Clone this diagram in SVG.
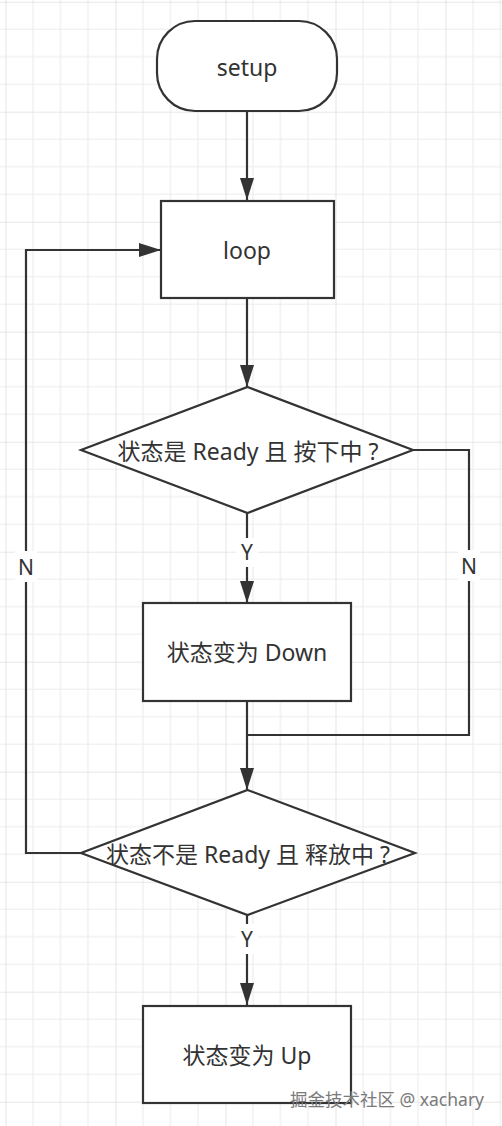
<svg xmlns="http://www.w3.org/2000/svg" width="502" height="1126" viewBox="0 0 502 1126">
<defs>
<pattern id="grid" patternUnits="userSpaceOnUse" x="5.5" y="1.7" width="110" height="110">
<path d="M27.5 0V110M55 0V110M82.5 0V110M0 27.5H110M0 55H110M0 82.5H110" stroke="#ececec" stroke-width="1.2" fill="none"/>
<path d="M0 0V110M0 0H110" stroke="#e0e0e0" stroke-width="1.6" fill="none"/>
</pattern>
<marker id="arr" markerUnits="userSpaceOnUse" markerWidth="24" markerHeight="16" refX="22" refY="7" orient="auto">
<path d="M0 0L22 7L0 14Z" fill="#333"/>
</marker>
</defs>
<style>
.shape{fill:#fff;stroke:#333;stroke-width:2.2}
.edge{fill:none;stroke:#333;stroke-width:2.2}
.t{font-family:"Noto Sans","Noto Sans CJK SC",sans-serif;fill:#333;text-anchor:middle;dominant-baseline:central}
.lbl{font-family:"Noto Sans",sans-serif;font-size:21px;fill:#333;text-anchor:middle;dominant-baseline:central}
.bg{fill:#fff}
</style>
<rect width="502" height="1126" fill="#fff"/>
<rect width="502" height="1126" fill="url(#grid)"/>
<g id="connectors">
<path class="edge" d="M247 111V200" marker-end="url(#arr)"/>
<path class="edge" d="M247 298V387" marker-end="url(#arr)"/>
<path class="edge" d="M247 513V603" marker-end="url(#arr)"/>
<path class="edge" d="M413 450H469V735H247"/>
<path class="edge" d="M247 701V790" marker-end="url(#arr)"/>
<path class="edge" d="M81 853H26V250H161" marker-end="url(#arr)"/>
<path class="edge" d="M247 915V1005" marker-end="url(#arr)"/>
<rect class="bg" x="236" y="538" width="22" height="29"/>
<text class="lbl" x="247" y="552">Y</text>
<rect class="bg" x="458" y="550" width="22" height="31"/>
<text class="lbl" x="469" y="566">N</text>
<rect class="bg" x="15" y="551" width="22" height="31"/>
<text class="lbl" x="26" y="567">N</text>
<rect class="bg" x="236" y="924" width="22" height="30"/>
<text class="lbl" x="247" y="939">Y</text>
</g>
<g id="setup">
<rect class="shape" x="157" y="21" width="180" height="90" rx="38" ry="38"/>
<text class="t" x="247" y="67" font-size="23">setup</text>
</g>
<g id="loop">
<rect class="shape" x="161" y="201" width="173" height="97"/>
<text class="t" x="247" y="250" font-size="23">loop</text>
</g>
<g id="decision1">
<path class="shape" d="M247.5 387L413 450L247.5 513L81 450Z"/>
<text class="t" x="248" y="451" font-size="23">状态是 Ready 且 按下中 ?</text>
</g>
<g id="down">
<rect class="shape" x="143" y="603" width="208" height="98"/>
<text class="t" x="247" y="652" font-size="23">状态变为 Down</text>
</g>
<g id="decision2">
<path class="shape" d="M247.5 790L415 853L247.5 915L81 853Z"/>
<text class="t" x="248" y="854" font-size="23">状态不是 Ready 且 释放中 ?</text>
</g>
<g id="up">
<rect class="shape" x="143" y="1006" width="208" height="97"/>
<text class="t" x="247" y="1055" font-size="23">状态变为 Up</text>
</g>
<text x="387" y="1099" font-family="'Noto Sans','Noto Sans CJK SC',sans-serif" font-size="17.5" fill="#7a7a7a" text-anchor="middle" dominant-baseline="central">掘金技术社区 @ xachary</text>
</svg>
